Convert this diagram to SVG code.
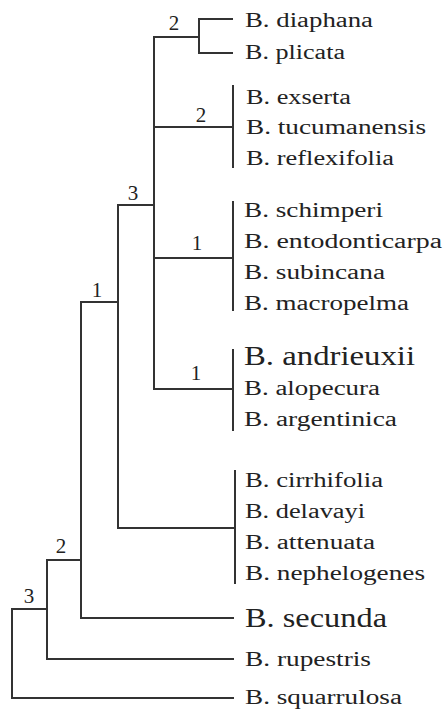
<svg xmlns="http://www.w3.org/2000/svg" width="443" height="716" viewBox="0 0 443 716">
  <style>
    .edge { stroke: #333; stroke-width: 2; fill: none; stroke-linecap: square; }
    .taxon { font-family: "Liberation Serif", "DejaVu Serif", serif; font-size: 20px; fill: #222; }
    .big { font-size: 27px; }
    .support { font-family: "Liberation Serif", "DejaVu Serif", serif; font-size: 21px; fill: #222; text-anchor: middle; }
  </style>
  <rect width="443" height="716" fill="#fff"/>

  <g id="connectors">
    <!-- root -->
    <path class="edge" d="M12,609 V698 H233 M12,609 H47"/>
    <!-- node 2 -->
    <path class="edge" d="M47,560 V659 H233 M47,560 H81"/>
    <!-- node 1 -->
    <path class="edge" d="M81,302 V618 H233 M81,302 H118"/>
    <!-- node 3 (inner) and cirrhifolia clade -->
    <path class="edge" d="M118,205 V528 H235 M118,205 H154"/>
    <path class="edge" d="M235,471 V583"/>
    <!-- crown node -->
    <path class="edge" d="M154,37 V389 H233 M154,37 H199"/>
    <path class="edge" d="M199,19 V53 M199,19 H232 M199,53 H232"/>
    <path class="edge" d="M154,127 H233 M233,86 V167"/>
    <path class="edge" d="M154,258 H233 M233,202 V310"/>
    <path class="edge" d="M233,350 V430"/>
  </g>

  <g id="support-values">
    <text class="support" x="29" y="603">3</text>
    <text class="support" x="61" y="553">2</text>
    <text class="support" x="97" y="297">1</text>
    <text class="support" x="133" y="200">3</text>
    <text class="support" x="174" y="30">2</text>
    <text class="support" x="201" y="122">2</text>
    <text class="support" x="197" y="250">1</text>
    <text class="support" x="196" y="380">1</text>
  </g>

  <g id="clade-diaphana">
    <text class="taxon" x="245" y="27" textLength="128" lengthAdjust="spacingAndGlyphs">B. diaphana</text>
    <text class="taxon" x="245" y="59" textLength="100" lengthAdjust="spacingAndGlyphs">B. plicata</text>
  </g>
  <g id="clade-exserta">
    <text class="taxon" x="246" y="104" textLength="105" lengthAdjust="spacingAndGlyphs">B. exserta</text>
    <text class="taxon" x="246" y="134" textLength="180" lengthAdjust="spacingAndGlyphs">B. tucumanensis</text>
    <text class="taxon" x="246" y="165" textLength="148" lengthAdjust="spacingAndGlyphs">B. reflexifolia</text>
  </g>
  <g id="clade-schimperi">
    <text class="taxon" x="244" y="217" textLength="139" lengthAdjust="spacingAndGlyphs">B. schimperi</text>
    <text class="taxon" x="244" y="248" textLength="198" lengthAdjust="spacingAndGlyphs">B. entodonticarpa</text>
    <text class="taxon" x="244" y="279" textLength="141" lengthAdjust="spacingAndGlyphs">B. subincana</text>
    <text class="taxon" x="244" y="310" textLength="165" lengthAdjust="spacingAndGlyphs">B. macropelma</text>
  </g>
  <g id="clade-andrieuxii">
    <text class="taxon big" x="244" y="365" textLength="171" lengthAdjust="spacingAndGlyphs">B. andrieuxii</text>
    <text class="taxon" x="244" y="395" textLength="136" lengthAdjust="spacingAndGlyphs">B. alopecura</text>
    <text class="taxon" x="244" y="426" textLength="153" lengthAdjust="spacingAndGlyphs">B. argentinica</text>
  </g>
  <g id="clade-cirrhifolia">
    <text class="taxon" x="245" y="487" textLength="138" lengthAdjust="spacingAndGlyphs">B. cirrhifolia</text>
    <text class="taxon" x="245" y="518" textLength="120" lengthAdjust="spacingAndGlyphs">B. delavayi</text>
    <text class="taxon" x="245" y="549" textLength="130" lengthAdjust="spacingAndGlyphs">B. attenuata</text>
    <text class="taxon" x="245" y="580" textLength="180" lengthAdjust="spacingAndGlyphs">B. nephelogenes</text>
  </g>
  <g id="taxon-secunda">
    <text class="taxon big" x="245" y="627" textLength="142" lengthAdjust="spacingAndGlyphs">B. secunda</text>
  </g>
  <g id="taxon-rupestris">
    <text class="taxon" x="245" y="666" textLength="126" lengthAdjust="spacingAndGlyphs">B. rupestris</text>
  </g>
  <g id="taxon-squarrulosa">
    <text class="taxon" x="245" y="704" textLength="157" lengthAdjust="spacingAndGlyphs">B. squarrulosa</text>
  </g>
</svg>
